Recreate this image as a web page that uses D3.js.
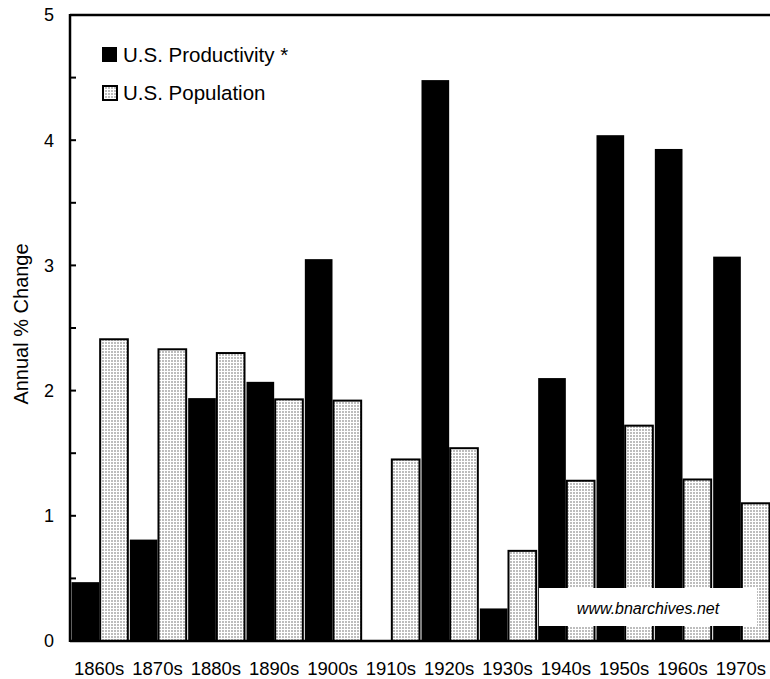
<!DOCTYPE html>
<html><head><meta charset="utf-8">
<script src="https://cdn.jsdelivr.net/npm/d3@7"></script>
<style>body{margin:0;background:#fff}svg{display:block;font-family:Arial,"Liberation Sans",sans-serif}</style>
</head><body><div id="chart"></div>
<script>
const decades = ["1860s","1870s","1880s","1890s","1900s","1910s","1920s","1930s","1940s","1950s","1960s","1970s"];
const productivity = [0.47,0.81,1.94,2.07,3.05,0,4.48,0.26,2.10,4.04,3.93,3.07];
const population = [2.41,2.33,2.30,1.93,1.92,1.45,1.54,0.72,1.28,1.72,1.29,1.10];
const yTicks = [0,1,2,3,4,5];
const yMinorTicks = [0.5,1,1.5,2,2.5,3,3.5,4,4.5];
const seriesNames = ["U.S. Productivity *","U.S. Population"];

const W = 770, H = 679;
const m = {left:70, right:0, top:15, bottom:38};
const svg = d3.select("#chart").append("svg").attr("width",W).attr("height",H);
const defs = svg.append("defs");
const pat = defs.append("pattern").attr("id","dots").attr("patternUnits","userSpaceOnUse")
  .attr("width",3).attr("height",3);
pat.append("rect").attr("width",3).attr("height",3).attr("fill","#fff");
pat.append("rect").attr("width",2).attr("height",2).attr("fill","#bdbdbd");

const x = d3.scaleBand().domain(decades).range([m.left, W-m.right]).padding(0);
const x1 = d3.scaleBand().domain([0,1]).range([0, x.bandwidth()]).padding(0);
const y = d3.scaleLinear().domain([0,5]).range([H-m.bottom, m.top]);

const g = svg.append("g");
g.selectAll(".prod").data(decades).join("rect")
  .attr("x", d => x(d) + x1(0) + 1.5)
  .attr("width", x1.bandwidth() - 1.5)
  .attr("y", (d,i) => y(productivity[i]))
  .attr("height", (d,i) => y(0) - y(productivity[i]))
  .attr("fill","#000");
g.selectAll(".pop").data(decades).join("rect")
  .attr("x", d => x(d) + x1(1) + 1)
  .attr("width", x1.bandwidth() - 1.5)
  .attr("y", (d,i) => y(population[i]))
  .attr("height", (d,i) => y(0) - y(population[i]))
  .attr("fill","url(#dots)").attr("stroke","#000").attr("stroke-width",2);

svg.append("line").attr("x1",m.left).attr("x2",W).attr("y1",y(5)).attr("y2",y(5)).attr("stroke","#000").attr("stroke-width",2.5);
svg.append("line").attr("x1",m.left).attr("x2",W).attr("y1",y(0)).attr("y2",y(0)).attr("stroke","#000").attr("stroke-width",2.5);
svg.append("line").attr("x1",m.left).attr("x2",m.left).attr("y1",y(5)-1).attr("y2",y(0)+1).attr("stroke","#000").attr("stroke-width",2.5);
svg.selectAll(".tk").data(yMinorTicks).join("line")
  .attr("x1",m.left).attr("x2",m.left+6).attr("y1",d=>y(d)).attr("y2",d=>y(d))
  .attr("stroke","#000").attr("stroke-width",2);
svg.selectAll(".yl").data(yTicks).join("text")
  .attr("x",54).attr("y",d=>y(d)).attr("dy","0.36em").attr("text-anchor","end")
  .attr("font-size",18).text(d=>d);
svg.selectAll(".xl").data(decades).join("text")
  .attr("x",d=>x(d)+x.bandwidth()/2).attr("y",675).attr("text-anchor","middle")
  .attr("font-size",18.5).text(d=>d);
svg.append("text").attr("transform","translate(28,324) rotate(-90)").attr("text-anchor","middle")
  .attr("font-size",20).text("Annual % Change");

const lg = svg.append("g");
lg.append("rect").attr("x",102).attr("y",47).attr("width",15).attr("height",15).attr("fill","#000");
lg.append("rect").attr("x",103).attr("y",86).attr("width",14).attr("height",14).attr("fill","url(#dots)").attr("stroke","#000").attr("stroke-width",2);
lg.append("text").attr("x",123).attr("y",62).attr("font-size",20.5).text(seriesNames[0]);
lg.append("text").attr("x",123).attr("y",100).attr("font-size",20.5).text(seriesNames[1]);

svg.append("rect").attr("x",539).attr("y",588).attr("width",218).attr("height",38).attr("fill","#fff");
svg.append("text").attr("x",648).attr("y",614).attr("text-anchor","middle").attr("font-size",16)
  .attr("font-style","italic").text("www.bnarchives.net");
</script></body></html>
